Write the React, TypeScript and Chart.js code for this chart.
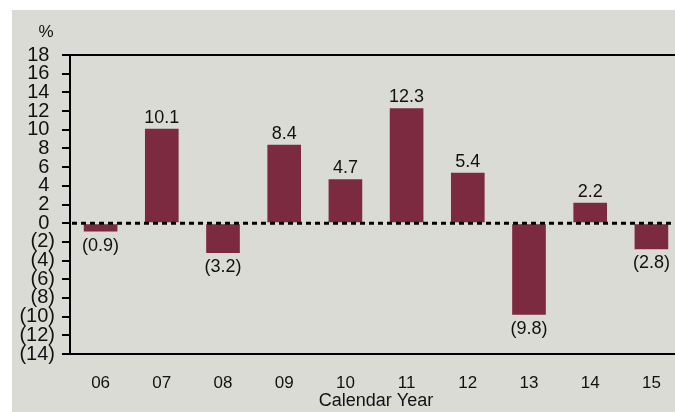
import React, { useEffect, useRef } from "react";
import { Chart, registerables } from "chart.js";

Chart.register(...registerables);

const categories = ["06", "07", "08", "09", "10", "11", "12", "13", "14", "15"];
const returnsPct = [-0.9, 10.1, -3.2, 8.4, 4.7, 12.3, 5.4, -9.8, 2.2, -2.8];
const yMin = -14;
const yMax = 18;
const yStep = 2;
const unitLabel = "%";
const xTitle = "Calendar Year";

const FONT = "'Liberation Sans', Arial, Helvetica, sans-serif";
const BG = "#dbdbd6";
const BAR = "#7c2a40";

function fmtValue(v: number): string {
  return v < 0 ? `(${Math.abs(v).toFixed(1)})` : v.toFixed(1);
}

const overlayPlugin = {
  id: "overlay",
  afterDatasetsDraw(chart: any) {
    const { ctx, chartArea, scales } = chart;
    const { left, right, top } = chartArea;
    const y = scales.y;
    ctx.save();
    // top frame line
    ctx.strokeStyle = "#000";
    ctx.lineWidth = 2;
    ctx.beginPath();
    ctx.moveTo(left, top);
    ctx.lineTo(right + 20, top);
    ctx.stroke();
    // zero dashed line
    const y0 = y.getPixelForValue(0);
    ctx.lineWidth = 3;
    ctx.setLineDash([5, 4]);
    ctx.beginPath();
    ctx.moveTo(left + 2, y0);
    ctx.lineTo(right + 20, y0);
    ctx.stroke();
    ctx.setLineDash([]);
    // data labels
    const meta = chart.getDatasetMeta(0);
    ctx.fillStyle = "#111";
    ctx.font = `18px ${FONT}`;
    ctx.textAlign = "center";
    meta.data.forEach((el: any, i: number) => {
      const v = returnsPct[i];
      if (v >= 0) {
        ctx.textBaseline = "bottom";
        ctx.fillText(fmtValue(v), el.x, el.y - 2);
      } else {
        ctx.textBaseline = "top";
        ctx.fillText(fmtValue(v), el.x, el.y + 5);
      }
    });
    // unit label
    ctx.font = `17px ${FONT}`;
    ctx.textBaseline = "middle";
    ctx.fillText(unitLabel, 34, 22);
    ctx.restore();
  },
};

export default function App() {
  const ref = useRef<HTMLCanvasElement | null>(null);

  useEffect(() => {
    if (!ref.current) return;
    const chart = new Chart(ref.current, {
      type: "bar",
      data: {
        labels: categories,
        datasets: [
          {
            data: returnsPct,
            backgroundColor: BAR,
            borderWidth: 0,
            categoryPercentage: 1,
            barPercentage: 0.55,
          },
        ],
      },
      options: {
        responsive: false,
        animation: false,
        layout: { padding: { top: 45, right: 10, left: 0, bottom: 0 } },
        plugins: {
          legend: { display: false },
          tooltip: { enabled: false },
        },
        scales: {
          x: {
            afterFit: (s: any) => {
              s.height = 58;
            },
            grid: { display: false },
            border: { display: true, color: "#000", width: 2 },
            ticks: {
              color: "#111",
              font: { family: FONT, size: 17 },
              padding: 11,
              maxRotation: 0,
            },
            title: {
              display: true,
              text: xTitle,
              color: "#111",
              font: { family: FONT, size: 18 },
              padding: { top: 0, bottom: 0 },
            },
          },
          y: {
            min: yMin,
            max: yMax,
            afterFit: (s: any) => {
              s.width = 58;
            },
            grid: {
              drawOnChartArea: false,
              drawTicks: true,
              tickLength: 8,
              color: "#000",
              lineWidth: 2,
            },
            border: { display: true, color: "#000", width: 2 },
            ticks: {
              stepSize: yStep,
              autoSkip: false,
              color: "#111",
              padding: 7,
              font: { family: FONT, size: 20 },
              callback: (v: any) => {
                const n = Number(v);
                return n < 0 ? `(${Math.abs(n)})` : `${n} `;
              },
            },
          },
        },
      },
      plugins: [overlayPlugin],
    });
    return () => chart.destroy();
  }, []);

  return (
    <div
      style={{
        position: "fixed",
        left: 0,
        top: 0,
        width: 675,
        height: 412,
        overflow: "hidden",
        background: "#ffffff",
      }}
    >
      <canvas
        ref={ref}
        width={680}
        height={402}
        style={{ position: "absolute", left: 12, top: 10, background: BG }}
      />
    </div>
  );
}
